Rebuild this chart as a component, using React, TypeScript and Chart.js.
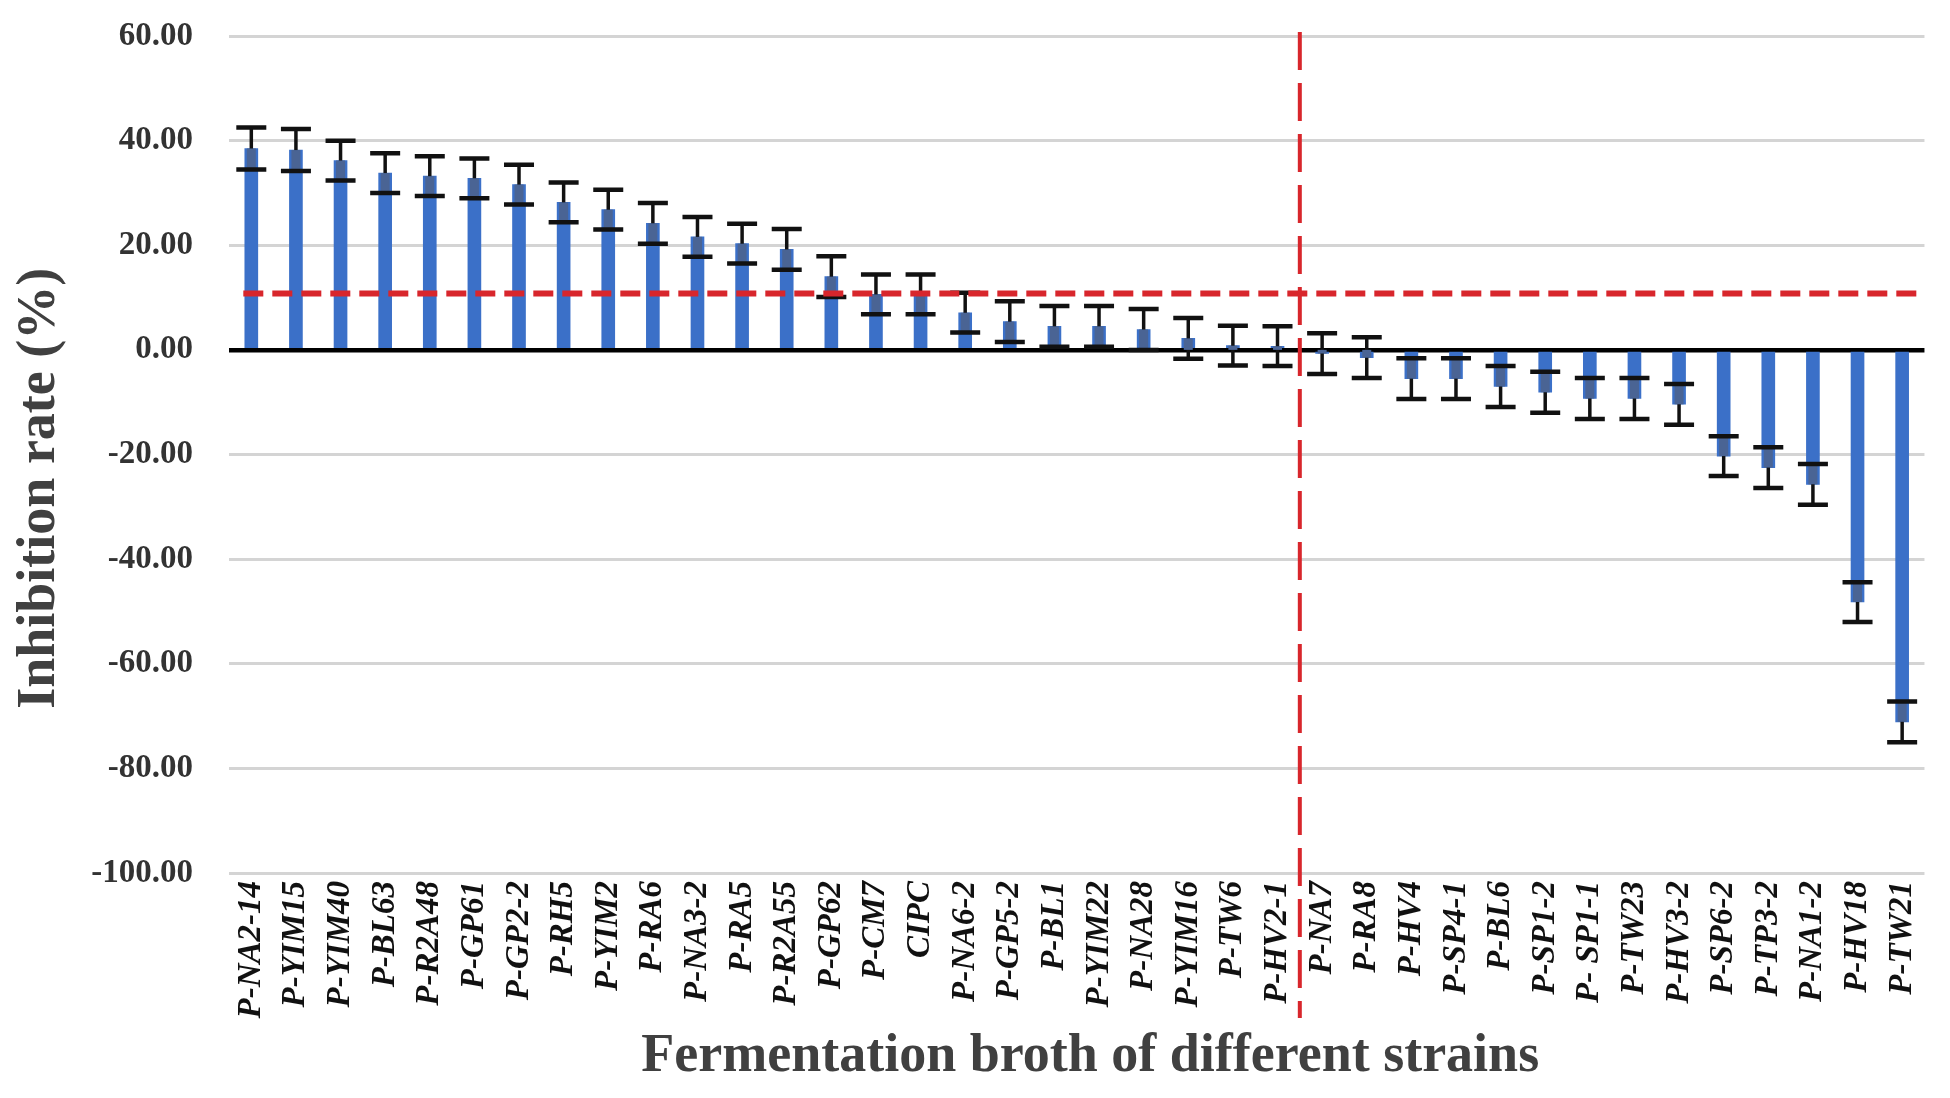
import React, { useEffect, useRef } from "react";
import { Chart, registerables } from "chart.js";

Chart.register(...registerables);

const LABELS = [
  "P-NA2-14", "P-YIM15", "P-YIM40", "P-BL63", "P-R2A48", "P-GP61", "P-GP2-2", "P-RH5",
  "P-YIM2", "P-RA6", "P-NA3-2", "P-RA5", "P-R2A55", "P-GP62", "P-CM7", "CIPC",
  "P-NA6-2", "P-GP5-2", "P-BL1", "P-YIM22", "P-NA28", "P-YIM16", "P-TW6", "P-HV2-1",
  "P-NA7", "P-RA8", "P-HV4", "P-SP4-1", "P-BL6", "P-SP1-2", "P- SP1-1", "P-TW23",
  "P-HV3-2", "P-SP6-2", "P-TP3-2", "P-NA1-2", "P-HV18", "P-TW21",
];

const VALUES = [
  38.5, 38.2, 36.2, 33.8, 33.2, 32.8, 31.6, 28.2,
  26.8, 24.2, 21.6, 20.3, 19.2, 14.0, 10.6, 10.6,
  7.1, 5.4, 4.5, 4.5, 3.9, 2.2, 0.8, 0.7,
  -0.7, -1.5, -5.5, -5.5, -7.0, -8.1, -9.3, -9.3,
  -10.4, -20.3, -22.5, -25.7, -48.2, -71.1,
];

const ERRORS = [
  4.0, 4.0, 3.8, 3.8, 3.8, 3.8, 3.8, 3.8,
  3.8, 3.9, 3.8, 3.8, 3.9, 3.9, 3.8, 3.8,
  3.8, 3.9, 3.9, 3.9, 3.9, 3.9, 3.8, 3.8,
  3.9, 3.9, 3.9, 3.9, 3.9, 3.9, 3.9, 3.9,
  3.9, 3.8, 3.9, 3.9, 3.8, 3.9,
];

const Y_TICKS = [60, 40, 20, 0, -20, -40, -60, -80, -100];
const THRESHOLD = 10.8;
const SPLIT_AFTER = "P-HV2-1";

const SERIF = "'Liberation Serif', 'Times New Roman', serif";

const errorBarPlugin = {
  id: "errorBars",
  afterDatasetsDraw(chart: any) {
    const { ctx } = chart;
    const y = chart.scales.y;
    const meta = chart.getDatasetMeta(0);
    const zero = y.getPixelForValue(0);
    ctx.save();
    meta.data.forEach((bar: any, i: number) => {
      const v = VALUES[i];
      const e = ERRORS[i];
      const x = bar.x;
      const yHi = y.getPixelForValue(v + e);
      const yLo = y.getPixelForValue(v - e);
      const yMean = y.getPixelForValue(v);
      ctx.strokeStyle = "#111";
      ctx.lineWidth = 3.5;
      ctx.setLineDash([]);
      ctx.beginPath();
      ctx.moveTo(x, yHi);
      ctx.lineTo(x, yLo);
      ctx.stroke();
      const inner = v >= 0 ? yLo : yHi;
      const a = yMean;
      let b = inner;
      if (v >= 0) b = Math.min(b, zero);
      else b = Math.max(b, zero);
      if ((v >= 0 && b > a) || (v < 0 && b < a)) {
        ctx.fillStyle = "#4a6494";
        ctx.fillRect(x - 4.5, Math.min(a, b), 9, Math.abs(b - a));
      }
      ctx.lineWidth = 4.5;
      ctx.strokeStyle = "#111";
      ctx.beginPath();
      ctx.moveTo(x - 15, yHi);
      ctx.lineTo(x + 15, yHi);
      ctx.moveTo(x - 15, yLo);
      ctx.lineTo(x + 15, yLo);
      ctx.stroke();
    });
    ctx.restore();
  },
};

const refLinesPlugin = {
  id: "refLines",
  afterDatasetsDraw(chart: any) {
    const { ctx, chartArea } = chart;
    const x = chart.scales.x;
    const y = chart.scales.y;
    ctx.save();
    const ty = y.getPixelForValue(THRESHOLD);
    ctx.strokeStyle = "#d8262c";
    ctx.lineWidth = 6;
    ctx.setLineDash([20, 9]);
    ctx.beginPath();
    ctx.moveTo(x.getPixelForValue(0) - 8, ty);
    ctx.lineTo(chartArea.right, ty);
    ctx.stroke();
    const idx = LABELS.indexOf(SPLIT_AFTER);
    const vx = (x.getPixelForValue(idx) + x.getPixelForValue(idx + 1)) / 2;
    ctx.lineWidth = 4;
    ctx.setLineDash([38, 13]);
    ctx.beginPath();
    ctx.moveTo(vx, chartArea.top - 4);
    ctx.lineTo(vx, chartArea.bottom + 145);
    ctx.stroke();
    ctx.restore();
  },
};

export default function App() {
  const ref = useRef<HTMLCanvasElement | null>(null);

  useEffect(() => {
    document.body.style.margin = "0";
    const canvas = ref.current;
    if (!canvas) return;
    const chart = new Chart(canvas, {
      type: "bar",
      data: {
        labels: LABELS,
        datasets: [
          {
            data: VALUES,
            backgroundColor: "#3b70c8",
            barThickness: 13,
          },
        ],
      },
      options: {
        animation: false,
        responsive: false,
        devicePixelRatio: 1,
        layout: { padding: { top: 36, right: 19, left: 0, bottom: 0 } },
        plugins: {
          legend: { display: false },
          tooltip: { enabled: false },
        },
        scales: {
          x: {
            grid: { display: false, drawTicks: false },
            border: { display: false },
            ticks: {
              autoSkip: false,
              maxRotation: 90,
              minRotation: 90,
              padding: 8,
              color: "#111",
              font: { family: SERIF, size: 33, style: "italic", weight: "bold" },
            },
            title: {
              display: true,
              text: "  Fermentation broth of different strains",
              color: "#404040",
              font: { family: SERIF, size: 54, weight: "bold" },
              padding: { top: 0, bottom: 9 },
            },
            afterFit(scale: any) {
              scale.height = 225;
            },
          },
          y: {
            min: -100,
            max: 60,
            afterBuildTicks(scale: any) {
              scale.ticks = Y_TICKS.map((v) => ({ value: v }));
            },
            grid: {
              drawTicks: false,
              color: (c: any) => (c.tick && c.tick.value === 0 ? "#000" : "#d4d4d4"),
              lineWidth: (c: any) => (c.tick && c.tick.value === 0 ? 4.5 : 3),
            },
            border: { display: false },
            ticks: {
              padding: 36,
              color: "#333",
              font: { family: SERIF, size: 33, weight: "bold" },
              callback: (v: any) => Number(v).toFixed(2),
            },
            title: {
              display: true,
              text: "Inhibition rate (%)     ",
              color: "#404040",
              font: { family: SERIF, size: 54, weight: "bold" },
              padding: { top: 8, bottom: 0 },
            },
            afterFit(scale: any) {
              scale.width = 229;
              scale.paddingTop = 0;
              scale.paddingBottom = 0;
            },
          },
        },
      },
      plugins: [errorBarPlugin, refLinesPlugin],
    });
    return () => chart.destroy();
  }, []);

  return (
    <div style={{ width: 1950, height: 1098, background: "#fff" }}>
      <canvas ref={ref} width={1950} height={1098} />
    </div>
  );
}
